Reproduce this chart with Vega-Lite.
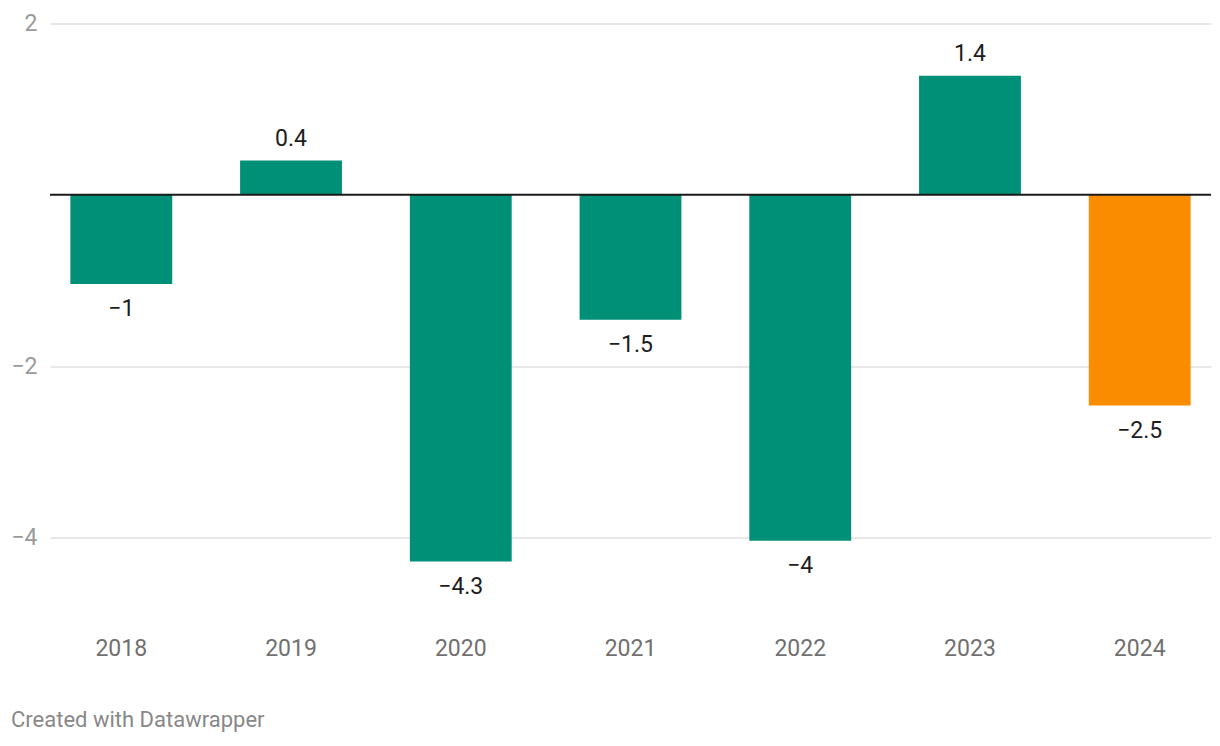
{
  "$schema": "https://vega.github.io/schema/vega-lite/v6.json",
  "width": 1161,
  "height": 591,
  "autosize": {"type": "none"},
  "padding": {"left": 50, "top": 23.5, "right": 9, "bottom": 131.5},
  "background": "white",
  "config": {"view": {"stroke": null}, "font": "Roboto"},
  "title": {
    "text": "Created with Datawrapper",
    "orient": "bottom",
    "anchor": "start",
    "frame": "group",
    "dx": -39,
    "offset": 49,
    "fontSize": 22,
    "fontWeight": "normal",
    "color": "#888888",
    "font": "Roboto"
  },
  "data": {
    "values": [
      {"year": "2018", "value": -1.04},
      {"year": "2019", "value": 0.4},
      {"year": "2020", "value": -4.28},
      {"year": "2021", "value": -1.46},
      {"year": "2022", "value": -4.04},
      {"year": "2023", "value": 1.39},
      {"year": "2024", "value": -2.46}
    ]
  },
  "encoding": {
    "x": {
      "field": "year",
      "type": "ordinal",
      "scale": {"paddingInner": 0.4, "paddingOuter": 0.12},
      "axis": {
        "title": null,
        "domain": false,
        "ticks": false,
        "labelAngle": 0,
        "labelFontSize": 23,
        "labelColor": "#707070",
        "labelPadding": 23,
        "labelFont": "Roboto"
      }
    },
    "y": {
      "field": "value",
      "type": "quantitative",
      "scale": {"domain": [-4.9, 2], "nice": false, "zero": false},
      "axis": {
        "title": null,
        "values": [-4, -2, 2],
        "domain": false,
        "ticks": false,
        "grid": true,
        "gridColor": "#e0e0e0",
        "gridWidth": 1.5,
        "labelFontSize": 23,
        "labelColor": "#9a9a9a",
        "labelPadding": 13,
        "labelFont": "Roboto"
      }
    }
  },
  "layer": [
    {
      "mark": {"type": "bar"},
      "encoding": {
        "color": {
          "condition": {"test": "datum.year == '2024'", "value": "#fa8c00"},
          "value": "#009077"
        }
      }
    },
    {
      "data": {"values": [{"zero": 0}]},
      "mark": {"type": "rule", "color": "#1a1a1a", "strokeWidth": 2},
      "encoding": {
        "x": null,
        "y": {"field": "zero", "type": "quantitative"}
      }
    },
    {
      "transform": [{"filter": "datum.value > 0"}],
      "mark": {"type": "text", "baseline": "alphabetic", "dy": -15, "fontSize": 23, "color": "#1d1d1d", "font": "Roboto"},
      "encoding": {
        "text": {"field": "value", "type": "quantitative", "format": ".1~f"}
      }
    },
    {
      "transform": [{"filter": "datum.value < 0"}],
      "mark": {"type": "text", "baseline": "alphabetic", "dy": 32.5, "fontSize": 23, "color": "#1d1d1d", "font": "Roboto"},
      "encoding": {
        "text": {"field": "value", "type": "quantitative", "format": ".1~f"}
      }
    }
  ]
}
